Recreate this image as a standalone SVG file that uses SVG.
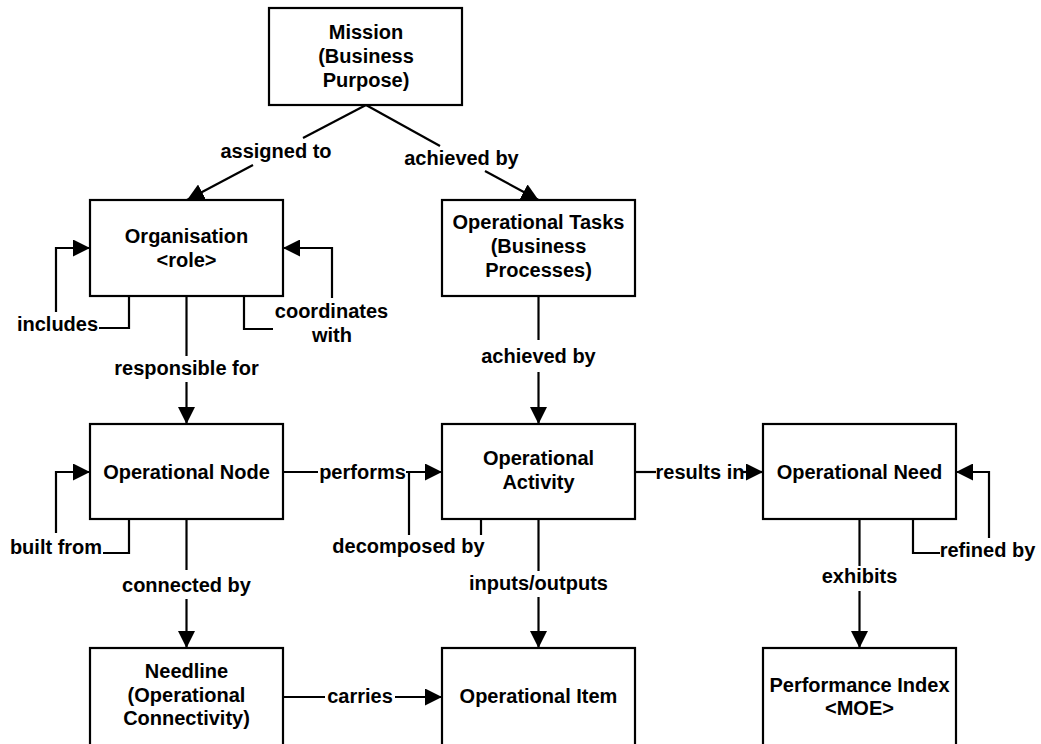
<svg xmlns="http://www.w3.org/2000/svg" width="1041" height="744" viewBox="0 0 1041 744">
  <style>
    .box { fill: #fff; stroke: #000; stroke-width: 2.2; }
    .edge { fill: none; stroke: #000; stroke-width: 2.2; }
    text { font-family: "Liberation Sans", Arial, Helvetica, sans-serif; font-weight: bold; font-size: 20px; fill: #000; text-anchor: middle; }
  </style>
  <defs>
    <marker id="arr" markerUnits="userSpaceOnUse" markerWidth="17" markerHeight="17" refX="17" refY="8.5" orient="auto">
      <path d="M0,0 L17,8.5 L0,17 z" fill="#000"/>
    </marker>
  </defs>
  <rect width="1041" height="744" fill="#fff"/>

  <!-- connectors -->
  <g id="connectors">
    <!-- Mission -> Organisation -->
    <path class="edge" d="M366,105 L303,138"/>
    <path class="edge" d="M253,165 L187,200" marker-end="url(#arr)"/>
    <text x="276" y="158">assigned to</text>
    <!-- Mission -> Operational Tasks -->
    <path class="edge" d="M366,105 L440,146"/>
    <path class="edge" d="M485,171 L538.5,200" marker-end="url(#arr)"/>
    <text x="461.5" y="165">achieved by</text>
    <!-- Organisation self loops -->
    <path class="edge" d="M129,296 V328 H99"/>
    <path class="edge" d="M56,312 V248 H90" marker-end="url(#arr)"/>
    <text x="57.5" y="331">includes</text>
    <path class="edge" d="M244,296 V329 H273"/>
    <path class="edge" d="M332,298 V248 H283" marker-end="url(#arr)"/>
    <text x="331.5" y="318">coordinates</text>
    <text x="332" y="342">with</text>
    <!-- Organisation -> Operational Node -->
    <path class="edge" d="M186.5,296 V356"/>
    <path class="edge" d="M186.5,382 V424" marker-end="url(#arr)"/>
    <text x="186.5" y="375">responsible for</text>
    <!-- Operational Tasks -> Operational Activity -->
    <path class="edge" d="M538.5,296 V340"/>
    <path class="edge" d="M538.5,372 V424" marker-end="url(#arr)"/>
    <text x="538.5" y="363">achieved by</text>
    <!-- Operational Node self loop -->
    <path class="edge" d="M129,519 V553 H103"/>
    <path class="edge" d="M56,533 V472 H90" marker-end="url(#arr)"/>
    <text x="56" y="554">built from</text>
    <!-- Operational Node -> Operational Activity -->
    <path class="edge" d="M283,472 H318"/>
    <path class="edge" d="M406,472 H442" marker-end="url(#arr)"/>
    <text x="362.5" y="479">performs</text>
    <!-- Operational Activity self loop, joining the performs arrow -->
    <path class="edge" d="M481,519 V535"/>
    <path class="edge" d="M409,535 V472"/>
    <text x="408.5" y="553">decomposed by</text>
    <!-- Operational Activity -> Operational Need -->
    <path class="edge" d="M635,472 H656"/>
    <path class="edge" d="M743,472 H763" marker-end="url(#arr)"/>
    <text x="700" y="479">results in</text>
    <!-- Operational Need self loop -->
    <path class="edge" d="M913,519 V553 H940"/>
    <path class="edge" d="M989,538 V472 H956" marker-end="url(#arr)"/>
    <text x="987.5" y="557">refined by</text>
    <!-- Operational Node -> Needline -->
    <path class="edge" d="M186.5,519 V570"/>
    <path class="edge" d="M186.5,599 V648" marker-end="url(#arr)"/>
    <text x="186.5" y="592">connected by</text>
    <!-- Operational Activity -> Operational Item -->
    <path class="edge" d="M538.5,519 V571"/>
    <path class="edge" d="M538.5,597 V648" marker-end="url(#arr)"/>
    <text x="538.5" y="590">inputs/outputs</text>
    <!-- Operational Need -> Performance Index -->
    <path class="edge" d="M859.5,519 V566"/>
    <path class="edge" d="M859.5,591 V648" marker-end="url(#arr)"/>
    <text x="859.5" y="583">exhibits</text>
    <!-- Needline -> Operational Item -->
    <path class="edge" d="M283,697 H325"/>
    <path class="edge" d="M395,697 H442" marker-end="url(#arr)"/>
    <text x="360" y="703">carries</text>
  </g>

  <!-- nodes -->
  <g id="mission">
    <rect class="box" x="269" y="8" width="193" height="97"/>
    <text x="366" y="39">Mission</text>
    <text x="366" y="63">(Business</text>
    <text x="366" y="87">Purpose)</text>
  </g>
  <g id="organisation">
    <rect class="box" x="90" y="200" width="193" height="96"/>
    <text x="186.5" y="243">Organisation</text>
    <text x="186.5" y="267">&lt;role&gt;</text>
  </g>
  <g id="operational-tasks">
    <rect class="box" x="442" y="200" width="193" height="96"/>
    <text x="538.5" y="229">Operational Tasks</text>
    <text x="538.5" y="253">(Business</text>
    <text x="538.5" y="277">Processes)</text>
  </g>
  <g id="operational-node">
    <rect class="box" x="90" y="424" width="193" height="95"/>
    <text x="186.5" y="479">Operational Node</text>
  </g>
  <g id="operational-activity">
    <rect class="box" x="442" y="424" width="193" height="95"/>
    <text x="538.5" y="465">Operational</text>
    <text x="538.5" y="489">Activity</text>
  </g>
  <g id="operational-need">
    <rect class="box" x="763" y="424" width="193" height="95"/>
    <text x="859.5" y="479">Operational Need</text>
  </g>
  <g id="needline">
    <rect class="box" x="90" y="648" width="193" height="110"/>
    <text x="186.5" y="678">Needline</text>
    <text x="186.5" y="702">(Operational</text>
    <text x="186.5" y="725">Connectivity)</text>
  </g>
  <g id="operational-item">
    <rect class="box" x="442" y="648" width="193" height="110"/>
    <text x="538.5" y="703">Operational Item</text>
  </g>
  <g id="performance-index">
    <rect class="box" x="763" y="648" width="193" height="110"/>
    <text x="859.5" y="692">Performance Index</text>
    <text x="859.5" y="715">&lt;MOE&gt;</text>
  </g>
</svg>
